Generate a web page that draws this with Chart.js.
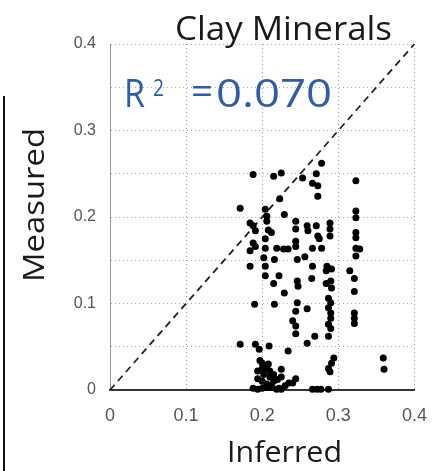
<!DOCTYPE html>
<html>
<head>
<meta charset="utf-8">
<script src="https://cdn.jsdelivr.net/npm/chart.js@4/dist/chart.umd.min.js"></script>
<style>
  html, body { margin: 0; padding: 0; background: #fff; }
  #wrap { position: relative; width: 442px; height: 471px; }
  canvas { display: block; }
</style>
</head>
<body>
<div id="wrap"><canvas id="c" width="442" height="471"></canvas></div>
<script>
// ---- data ----
const chartTitle = 'Clay Minerals';
const xAxisTitle = 'Inferred';
const yAxisTitle = 'Measured';
const r2Value = '0.070';
const xTickLabels = ['0', '0.1', '0.2', '0.3', '0.4'];
const yTickLabels = ['0', '0.1', '0.2', '0.3', '0.4'];
const oneToOne = [0, 0.4];

const inferred = [
  0.188,0.215,0.225,0.278,0.253,0.271,0.266,0.273,0.273,0.223,0.323,0.171,0.229,0.204,0.206,0.206,
  0.184,0.188,0.191,0.323,0.323,0.244,0.244,0.259,0.260,0.271,0.273,0.289,0.289,0.289,0.212,0.208,
  0.323,0.323,0.204,0.244,0.244,0.275,0.278,0.188,0.191,0.184,0.204,0.219,0.228,0.234,0.266,0.323,
  0.328,0.323,0.202,0.216,0.246,0.256,0.184,0.204,0.266,0.285,0.291,0.284,0.315,0.204,0.222,0.246,
  0.265,0.290,0.291,0.284,0.321,0.321,0.215,0.247,0.229,0.287,0.290,0.287,0.290,0.216,0.190,0.246,
  0.244,0.259,0.321,0.321,0.321,0.240,0.244,0.290,0.287,0.290,0.244,0.269,0.287,0.259,0.209,0.234,
  0.171,0.191,0.196,0.294,0.291,0.287,0.289,0.197,0.200,0.206,0.210,0.202,0.200,0.206,0.212,0.222,
  0.225,0.194,0.194,0.194,0.188,0.244,0.240,0.266,0.272,0.277,0.287,0.219,0.225,0.359,0.360,
  0.210,0.215,0.205,0.210,0.200,0.215,0.220,0.230,0.235,0.225,0.200,0.208
];
const measured = [
  0.249,0.247,0.251,0.262,0.245,0.250,0.239,0.236,0.224,0.221,0.242,0.210,0.203,0.209,0.201,0.195,
  0.193,0.190,0.184,0.207,0.199,0.195,0.186,0.190,0.184,0.190,0.178,0.193,0.186,0.178,0.182,0.185,
  0.182,0.176,0.175,0.172,0.166,0.175,0.164,0.170,0.166,0.161,0.164,0.164,0.163,0.163,0.164,0.164,
  0.163,0.155,0.153,0.151,0.151,0.154,0.143,0.143,0.143,0.143,0.140,0.138,0.138,0.132,0.132,0.126,
  0.129,0.126,0.118,0.123,0.129,0.114,0.123,0.120,0.112,0.106,0.101,0.095,0.089,0.099,0.099,0.101,
  0.091,0.094,0.089,0.083,0.077,0.080,0.074,0.083,0.076,0.071,0.065,0.062,0.062,0.054,0.051,0.045,
  0.053,0.053,0.047,0.037,0.031,0.025,0.021,0.034,0.031,0.025,0.022,0.018,0.010,0.007,0.005,0.002,
  0.024,0.022,0.013,0.001,0.002,0.013,0.008,0.001,0.001,0.001,0.001,0.001,0.001,0.037,0.024,
  0.015,0.010,0.003,0.003,0.002,0.018,0.012,0.005,0.008,0.015,0.025,0.030
];

// ---- build ----
const points = inferred.map((x, i) => ({ x: x, y: measured[i] }));
const diag = oneToOne.map(v => ({ x: v, y: v }));

function labelFor(list, v) {
  const k = Math.round(v * 10);
  if (Math.abs(v * 10 - k) > 1e-6) return '';
  return list[k] !== undefined ? list[k] : '';
}

function drawStretched(ctx, text, font, x, baseline, width, color) {
  ctx.save();
  ctx.font = font;
  ctx.fillStyle = color;
  ctx.textBaseline = 'alphabetic';
  ctx.textAlign = 'left';
  const w = ctx.measureText(text).width;
  const s = width / w;
  ctx.translate(x, baseline);
  ctx.scale(s, 1);
  ctx.fillText(text, 0, 0);
  ctx.restore();
}

const textPlugin = {
  id: 'texts',
  afterDraw(chart) {
    const ctx = chart.ctx;
    // chart title
    drawStretched(ctx, chartTitle, '32px "Open Sans"', 175, 40, 217, '#1a1a1a');
    // R^2 annotation
    const blue = '#2e5dac';
    drawStretched(ctx, 'R', '39px "Open Sans"', 124, 107, 21, blue);
    drawStretched(ctx, '2', '24px "Open Sans"', 153, 96, 11, blue);
    drawStretched(ctx, '=', '39px "Open Sans"', 191, 104, 22, blue);
    drawStretched(ctx, r2Value, '39px "Open Sans"', 216, 107, 116, blue);
    // x axis title
    drawStretched(ctx, xAxisTitle, '29px "Open Sans"', 227, 462, 115, '#1a1a1a');
    // y axis title (rotated)
    ctx.save();
    ctx.translate(44, 282);
    ctx.rotate(-Math.PI / 2);
    drawStretched(ctx, yAxisTitle, '30px "Open Sans"', 0, 0, 154, '#1a1a1a');
    ctx.restore();
    // left frame line
    ctx.save();
    ctx.fillStyle = '#111';
    ctx.fillRect(3, 96, 2, 375);
    ctx.restore();
  }
};

new Chart(document.getElementById('c'), {
  type: 'scatter',
  data: {
    datasets: [
      {
        type: 'line',
        data: diag,
        borderColor: '#222',
        borderWidth: 1.8,
        borderDash: [7, 5],
        pointRadius: 0,
        fill: false,
        clip: false,
        order: 2
      },
      {
        data: points,
        backgroundColor: '#000',
        borderColor: '#000',
        borderWidth: 0,
        pointRadius: 3.5,
        pointHoverRadius: 3.5,
        clip: false,
        order: 1
      }
    ]
  },
  options: {
    responsive: false,
    animation: false,
    events: [],
    layout: { padding: { left: 0, top: 44, right: 12, bottom: 0 } },
    plugins: {
      legend: { display: false },
      tooltip: { enabled: false },
      title: { display: false }
    },
    scales: {
      x: {
        type: 'linear',
        min: 0, max: 0.4,
        afterFit: s => { s.height = 81; },
        border: { display: true, color: '#333', width: 2, dash: [1, 3] },
        grid: { color: '#9a9a9a', lineWidth: 1, drawTicks: false },
        ticks: {
          stepSize: 0.1,
          padding: 15,
          color: '#555',
          font: { family: '"Liberation Sans", Arial, sans-serif', size: 18 },
          callback: v => labelFor(xTickLabels, v)
        }
      },
      y: {
        type: 'linear',
        min: 0, max: 0.4,
        afterFit: s => { s.width = 110; },
        border: { display: true, color: '#999', width: 1, dash: [1, 3] },
        grid: { color: '#b0b0b0', lineWidth: 1, drawTicks: false },
        ticks: {
          stepSize: 0.05,
          padding: 14,
          color: '#555',
          font: { family: '"Liberation Sans", Arial, sans-serif', size: 16 },
          callback: v => labelFor(yTickLabels, v)
        }
      }
    }
  },
  plugins: [textPlugin]
});
</script>
</body>
</html>
